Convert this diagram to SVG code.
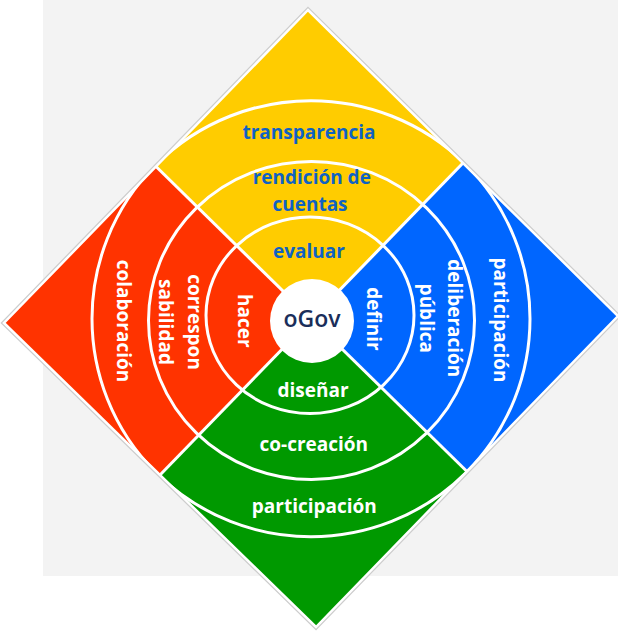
<svg xmlns="http://www.w3.org/2000/svg" width="618" height="631" viewBox="0 0 618 631">
<style>
.lbl{font-family:"Open Sans","Noto Sans","Liberation Sans",sans-serif;font-weight:700;font-size:19px;text-anchor:middle}
.w{fill:#ffffff}
.b{fill:#0f62c3}
.ring{fill:none;stroke:#ffffff;stroke-width:3}
.sep{stroke:#ffffff;stroke-width:3;fill:none}
</style>
<defs>
<clipPath id="dclip"><polygon points="308,10 618,316 316,627 4,323"/></clipPath>
</defs>
<rect id="background" x="43" y="0" width="575" height="576" fill="#f3f3f3"/>
<polygon points="308,10 618,316 316,627 4,323" fill="none" stroke="#cdcdcd" stroke-width="5"/>
<g id="quadrant-evaluar"><polygon points="308,10 463,163 312,319 156,166.5" fill="#ffcc00"/></g>
<g id="quadrant-definir"><polygon points="463,163 618,316 467,471.5 312,319" fill="#0066ff"/></g>
<g id="quadrant-disenar"><polygon points="312,319 467,471.5 316,627 160,475" fill="#009900"/></g>
<g id="quadrant-hacer"><polygon points="156,166.5 312,319 160,475 4,323" fill="#ff3300"/></g>
<g id="connectors">
<line class="sep" x1="156" y1="166.5" x2="467" y2="471.5"/>
<line class="sep" x1="463" y1="163" x2="160" y2="475"/>
<ellipse class="ring" cx="310" cy="315.3" rx="104" ry="98.3"/>
<ellipse class="ring" cx="311.5" cy="320.5" rx="163" ry="159"/>
<g clip-path="url(#dclip)"><ellipse class="ring" cx="311" cy="318.7" rx="219" ry="218"/></g>
<polygon points="308,10 618,316 316,627 4,323" fill="none" stroke="#ffffff" stroke-width="2.5"/>
</g>
<g id="labels-top">
<text class="lbl b" x="309" y="139.3">transparencia</text>
<text class="lbl b" x="311.8" y="184">rendición de</text>
<text class="lbl b" x="310" y="210.7">cuentas</text>
<text class="lbl b" x="309" y="258.3">evaluar</text>
</g>
<g id="labels-bottom">
<text class="lbl w" x="313" y="396.7">diseñar</text>
<text class="lbl w" x="313.8" y="451">co-creación</text>
<text class="lbl w" x="314.3" y="512.5">participación</text>
</g>
<g id="labels-left">
<text class="lbl w" transform="translate(116.7,321) rotate(90)">colaboración</text>
<text class="lbl w" transform="translate(188.3,322) rotate(90)">correspon</text>
<text class="lbl w" transform="translate(159.3,322) rotate(90)">sabilidad</text>
<text class="lbl w" transform="translate(238.3,320.8) rotate(90)">hacer</text>
</g>
<g id="labels-right">
<text class="lbl w" transform="translate(366.7,319) rotate(90)">definir</text>
<text class="lbl w" transform="translate(420,318.3) rotate(90)">pública</text>
<text class="lbl w" transform="translate(448.3,318.3) rotate(90)">deliberación</text>
<text class="lbl w" transform="translate(494,320) rotate(90)">participación</text>
</g>
<g id="center-ogov">
<circle cx="312" cy="321" r="42" fill="#ffffff"/>
<text x="312" y="326.7" font-family="'Open Sans','Noto Sans','Liberation Sans',sans-serif" font-weight="600" font-size="23" fill="#1a2e5a" text-anchor="middle">oGov</text>
</g>
</svg>
